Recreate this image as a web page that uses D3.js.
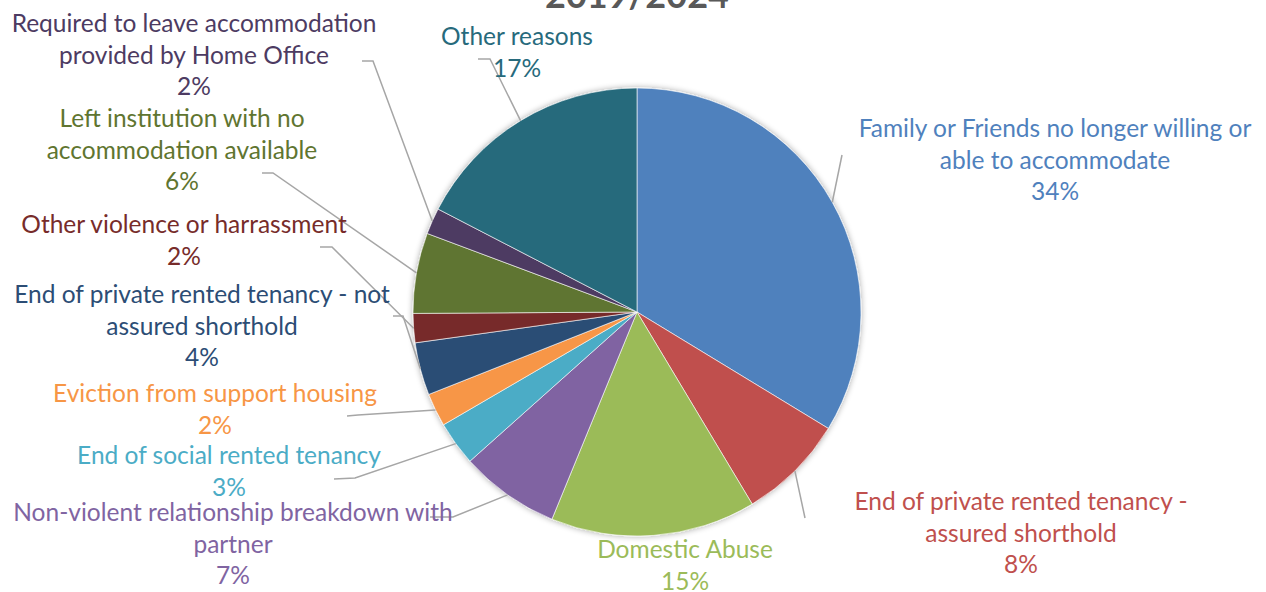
<!DOCTYPE html>
<html lang="en">
  <head>
    <meta charset="utf-8">
    <style type="text/css">
      body {
        margin: 0;
        background: white;
      }

      text {
        font-family: Lato, "Open Sans", sans-serif;
      }

      .leader {
        stroke: #a6a6a6;
        stroke-width: 1.5px;
        fill: none;
      }
    </style>
  </head>
  <body>
    <script src="https://cdn.jsdelivr.net/npm/d3@7"></script>
    <svg id="chart"></svg>

    <script type="text/javascript">
var width = 1266;
var height = 592;

// data (shares in %, labels show them rounded)
var reasons = [
  "Family or Friends no longer willing or able to accommodate",
  "End of private rented tenancy - assured shorthold",
  "Domestic Abuse",
  "Non-violent relationship breakdown with partner",
  "End of social rented tenancy",
  "Eviction from support housing",
  "End of private rented tenancy - not assured shorthold",
  "Other violence or harrassment",
  "Left institution with no accommodation available",
  "Required to leave accommodation provided by Home Office",
  "Other reasons"
];
var shares = [33.7, 7.7, 14.8, 7.2, 3.2, 2.4, 3.8, 2.1, 5.8, 1.9, 17.4];
var colors = ["#4f81bd", "#c0504d", "#9bbb59", "#8064a2", "#4bacc6", "#f79646",
              "#2c4d75", "#772c2a", "#5f7530", "#4d3b62", "#276a7c"];

// label layout: wrapped lines, block centre x, first line y, leader start (+ elbow)
var labelLines = [
  ["Family or Friends no longer willing or", "able to accommodate"],
  ["End of private rented tenancy -", "assured shorthold"],
  ["Domestic Abuse"],
  ["Non-violent relationship breakdown with", "partner"],
  ["End of social rented tenancy"],
  ["Eviction from support housing"],
  ["End of private rented tenancy - not", "assured shorthold"],
  ["Other violence or harrassment"],
  ["Left institution with no", "accommodation available"],
  ["Required to leave accommodation", "provided by Home Office"],
  ["Other reasons"]
];
var labelPos = [
  [1055, 127], [1021, 500], [685, 548], [233, 511], [229, 454], [215, 392],
  [202, 293], [184, 223], [182, 117], [194, 22], [517, 35]
];
var leaderStart = [
  [[842, 155]], [[805, 518]], null, [[430, 517], [453, 517]], [[334, 479], [355, 478]],
  [[347, 416], [358, 415]], [[393, 316], [403, 316]], [[320, 247], [332, 247]],
  [[262, 173], [273, 173]], [[362, 61], [373, 61]], [[478, 59], [490, 59]]
];

var cx = 637, cy = 312, radius = 224;
var lineStep = 31.5;

var svg = d3.select("#chart")
  .attr("width", width)
  .attr("height", height);

var defs = svg.append("defs");
var shadow = defs.append("filter")
  .attr("id", "shadow")
  .attr("x", "-10%").attr("y", "-10%")
  .attr("width", "120%").attr("height", "120%");
shadow.append("feGaussianBlur").attr("in", "SourceAlpha").attr("stdDeviation", 3);
shadow.append("feOffset").attr("dx", 0).attr("dy", 0).attr("result", "blur");
shadow.append("feComponentTransfer").append("feFuncA").attr("type", "linear").attr("slope", 0.35);
var merge = shadow.append("feMerge");
merge.append("feMergeNode");
merge.append("feMergeNode").attr("in", "SourceGraphic");

// title, mostly cut off at the top
svg.append("text")
  .attr("x", 637)
  .attr("y", 8)
  .attr("text-anchor", "middle")
  .style("font-size", "36px")
  .style("font-weight", "bold")
  .style("fill", "#595959")
  .text("2019/2024");

var pie = d3.pie()
  .sort(null)
  .value(function(d) { return d; });

var arcs = pie(shares);

var arc = d3.arc()
  .innerRadius(0)
  .outerRadius(radius);

var edge = d3.arc()
  .innerRadius(radius)
  .outerRadius(radius);

var g = svg.append("g")
  .attr("transform", "translate(" + cx + "," + cy + ")");

g.append("g")
  .attr("filter", "url(#shadow)")
  .selectAll("path")
  .data(arcs)
  .enter()
  .append("path")
  .attr("d", arc)
  .style("fill", function(d, i) { return colors[i]; })
  .style("stroke", "white")
  .style("stroke-width", 0.6);

// leader lines from label to slice edge
var line = d3.line();
arcs.forEach(function(d, i) {
  if (!leaderStart[i]) return;
  var p = edge.centroid(d);
  var pts = leaderStart[i].concat([[p[0] + cx, p[1] + cy]]);
  svg.append("path")
    .attr("class", "leader")
    .attr("d", line(pts));
});

var labels = svg.append("g")
  .selectAll("text")
  .data(arcs)
  .enter()
  .append("text")
  .attr("text-anchor", "middle")
  .attr("dominant-baseline", "central")
  .style("font-size", "24.5px")
  .style("fill", function(d, i) { return colors[i]; });

labels.each(function(d, i) {
  var t = d3.select(this);
  var lines = labelLines[i].concat([Math.round(d.data) + "%"]);
  lines.forEach(function(l, k) {
    t.append("tspan")
      .attr("x", labelPos[i][0])
      .attr("y", labelPos[i][1] + k * lineStep)
      .text(l);
  });
});
    </script>
  </body>
</html>
